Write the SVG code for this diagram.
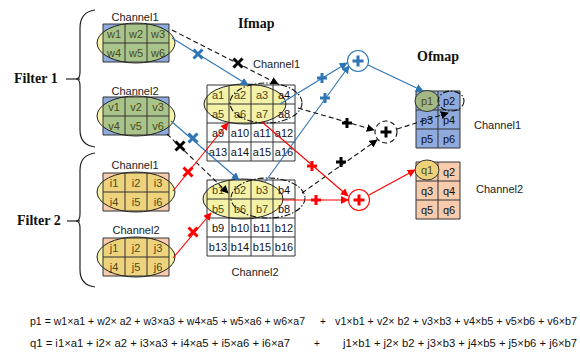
<svg xmlns="http://www.w3.org/2000/svg" xmlns:xlink="http://www.w3.org/1999/xlink" width="580" height="352" viewBox="0 0 580 352">
<style>
text{font-family:"Liberation Sans",Arial,sans-serif;fill:#222}
.ttl{font-family:"Liberation Serif","Times New Roman",serif;font-weight:bold;font-size:14px;fill:#111}
.lbl{font-size:11px;text-anchor:middle}
.lbl2{font-size:11px}
.c{font-size:11px;text-anchor:middle;fill:#111}
.ci{font-size:11px;text-anchor:middle;fill:#4a4a1c}
.eq{font-size:10px;fill:#111}
.grid{fill:none;stroke:#333;stroke-width:1}
.blueR{fill:#8FAADC}
.peachR{fill:#F8CBAD}
.yel{fill:#F4F1A8}
.estroke{fill:none;stroke:#222;stroke-width:1}
.dd{fill:none;stroke:#111;stroke-width:1.1;stroke-dasharray:6 2 1.5 2}
.bl{stroke:#2E75B6;stroke-width:1.1;fill:none}
.rd{stroke:#FF0000;stroke-width:1.1;fill:none}
.bk{stroke:#111;stroke-width:1.1;fill:none;stroke-dasharray:5 3}
.mb{stroke:#2E75B6;stroke-width:3;fill:none}
.mr{stroke:#FF0000;stroke-width:3;fill:none}
.mk{stroke:#000;stroke-width:3;fill:none}
.brace{fill:none;stroke:#222;stroke-width:1.2}
</style>
<defs>
<clipPath id="ek" clipPathUnits="objectBoundingBox"><ellipse cx="0.5" cy="0.5" rx="0.59" ry="0.53"/></clipPath>
<path id="xm" d="M-4.5,-4.5L4.5,4.5M-4.5,4.5L4.5,-4.5"/>
<path id="pm" d="M-5,0H5M0,-5V5"/>
<path id="pc" d="M-5.5,0H5.5M0,-5.5V5.5"/>
<marker id="ab" viewBox="0 0 10 10" refX="9" refY="5" markerWidth="8" markerHeight="8" markerUnits="userSpaceOnUse" orient="auto"><path d="M0,0L10,5L0,10z" fill="#2E75B6"/></marker>
<marker id="ar" viewBox="0 0 10 10" refX="9" refY="5" markerWidth="8" markerHeight="8" markerUnits="userSpaceOnUse" orient="auto"><path d="M0,0L10,5L0,10z" fill="#FF0000"/></marker>
<marker id="ak" viewBox="0 0 10 10" refX="9" refY="5" markerWidth="8" markerHeight="8" markerUnits="userSpaceOnUse" orient="auto"><path d="M0,0L10,5L0,10z" fill="#000"/></marker>
</defs>

<!-- Filter labels and braces -->
<g id="filter1">
<text class="ttl" x="14" y="83">Filter 1</text>
<path class="brace" d="M66,79H80"/>
<path class="brace" d="M95,10Q80,12 80,28V72Q80,79 76,79Q80,79 80,86V130Q80,145 95,147"/>
</g>
<g id="filter2">
<text class="ttl" x="17" y="225">Filter 2</text>
<path class="brace" d="M67,221H80"/>
<path class="brace" d="M95,153Q80,155 80,170V214Q80,221 76,221Q80,221 80,228V270Q80,285 95,287"/>
</g>

<!-- Kernel w -->
<g id="kernel-w">
<text class="lbl" x="135" y="21">Channel1</text>
<ellipse class="yel" cx="136" cy="43" rx="39" ry="20"/>
<rect class="blueR" x="103" y="24" width="66" height="38"/>
<rect x="103" y="24" width="66" height="38" fill="#A9C48B" clip-path="url(#ek)"/>
<path class="grid" d="M103,24h66v38h-66zM125,24v38M147,24v38M103,43h66"/>
<text class="ci" x="114" y="37.5">w1</text><text class="ci" x="136" y="37.5">w2</text><text class="ci" x="158" y="37.5">w3</text>
<text class="ci" x="114" y="56.5">w4</text><text class="ci" x="136" y="56.5">w5</text><text class="ci" x="158" y="56.5">w6</text>
<ellipse class="estroke" cx="136" cy="43" rx="39" ry="20"/>
</g>

<!-- Kernel v -->
<g id="kernel-v">
<text class="lbl" x="135" y="95">Channel2</text>
<ellipse class="yel" cx="136" cy="116" rx="39" ry="20"/>
<rect class="blueR" x="103" y="97" width="66" height="38"/>
<rect x="103" y="97" width="66" height="38" fill="#A9C48B" clip-path="url(#ek)"/>
<path class="grid" d="M103,97h66v38h-66zM125,97v38M147,97v38M103,116h66"/>
<text class="ci" x="114" y="110.5">v1</text><text class="ci" x="136" y="110.5">v2</text><text class="ci" x="158" y="110.5">v3</text>
<text class="ci" x="114" y="129.5">v4</text><text class="ci" x="136" y="129.5">v5</text><text class="ci" x="158" y="129.5">v6</text>
<ellipse class="estroke" cx="136" cy="116" rx="39" ry="20"/>
</g>

<!-- Kernel i -->
<g id="kernel-i">
<text class="lbl" x="135" y="169">Channel1</text>
<ellipse class="yel" cx="136" cy="192" rx="39" ry="20"/>
<rect class="peachR" x="103" y="173" width="66" height="38"/>
<rect x="103" y="173" width="66" height="38" fill="#EFD27C" clip-path="url(#ek)"/>
<path class="grid" d="M103,173h66v38h-66zM125,173v38M147,173v38M103,192h66"/>
<text class="ci" x="114" y="186.5">i1</text><text class="ci" x="136" y="186.5">i2</text><text class="ci" x="158" y="186.5">i3</text>
<text class="ci" x="114" y="205.5">i4</text><text class="ci" x="136" y="205.5">i5</text><text class="ci" x="158" y="205.5">i6</text>
<ellipse class="estroke" cx="136" cy="192" rx="39" ry="20"/>
</g>

<!-- Kernel j -->
<g id="kernel-j">
<text class="lbl" x="136" y="234">Channel2</text>
<ellipse class="yel" cx="136" cy="257" rx="39" ry="20"/>
<rect class="peachR" x="103" y="238" width="66" height="38"/>
<rect x="103" y="238" width="66" height="38" fill="#EFD27C" clip-path="url(#ek)"/>
<path class="grid" d="M103,238h66v38h-66zM125,238v38M147,238v38M103,257h66"/>
<text class="ci" x="114" y="251.5">j1</text><text class="ci" x="136" y="251.5">j2</text><text class="ci" x="158" y="251.5">j3</text>
<text class="ci" x="114" y="270.5">j4</text><text class="ci" x="136" y="270.5">j5</text><text class="ci" x="158" y="270.5">j6</text>
<ellipse class="estroke" cx="136" cy="257" rx="39" ry="20"/>
</g>

<!-- Ifmap channel 1 -->
<g id="ifmap-a">
<text class="ttl" x="238" y="28">Ifmap</text>
<text class="lbl2" x="253" y="68">Channel1</text>
<rect x="207" y="85" width="88" height="76" fill="#fff"/>
<ellipse class="yel" cx="245" cy="104" rx="41" ry="20"/>
<path class="grid" d="M207,85h88v76h-88zM229,85v76M251,85v76M273,85v76M207,104h88M207,123h88M207,142h88"/>
<text class="ci" x="218" y="98.5">a1</text><text class="ci" x="240" y="98.5">a2</text><text class="ci" x="262" y="98.5">a3</text><text class="c" x="284" y="98.5">a4</text>
<text class="ci" x="218" y="117.5">a5</text><text class="ci" x="240" y="117.5">a6</text><text class="ci" x="262" y="117.5">a7</text><text class="c" x="284" y="117.5">a8</text>
<text class="c" x="218" y="136.5">a9</text><text class="c" x="240" y="136.5">a10</text><text class="c" x="262" y="136.5">a11</text><text class="c" x="284" y="136.5">a12</text>
<text class="c" x="218" y="155.5">a13</text><text class="c" x="240" y="155.5">a14</text><text class="c" x="262" y="155.5">a15</text><text class="c" x="284" y="155.5">a16</text>
<ellipse class="estroke" cx="245" cy="104" rx="41" ry="20"/>
<ellipse class="dd" cx="266" cy="103" rx="36" ry="20"/>
</g>

<!-- Ifmap channel 2 -->
<g id="ifmap-b">
<rect x="207" y="180" width="88" height="76" fill="#fff"/>
<ellipse class="yel" cx="243" cy="199" rx="40" ry="20"/>
<path class="grid" d="M207,180h88v76h-88zM229,180v76M251,180v76M273,180v76M207,199h88M207,218h88M207,237h88"/>
<text class="ci" x="218" y="193.5">b1</text><text class="ci" x="240" y="193.5">b2</text><text class="ci" x="262" y="193.5">b3</text><text class="c" x="284" y="193.5">b4</text>
<text class="ci" x="218" y="212.5">b5</text><text class="ci" x="240" y="212.5">b6</text><text class="ci" x="262" y="212.5">b7</text><text class="c" x="284" y="212.5">b8</text>
<text class="c" x="218" y="231.5">b9</text><text class="c" x="240" y="231.5">b10</text><text class="c" x="262" y="231.5">b11</text><text class="c" x="284" y="231.5">b12</text>
<text class="c" x="218" y="250.5">b13</text><text class="c" x="240" y="250.5">b14</text><text class="c" x="262" y="250.5">b15</text><text class="c" x="284" y="250.5">b16</text>
<ellipse class="estroke" cx="243" cy="199" rx="40" ry="20"/>
<ellipse class="dd" cx="268" cy="198" rx="37" ry="20"/>
<text class="lbl" x="255" y="276">Channel2</text>
</g>

<!-- Ofmap -->
<g id="ofmap-p">
<text class="ttl" x="417" y="61">Ofmap</text>
<rect class="blueR" x="416" y="91" width="44" height="57"/>
<path class="grid" d="M416,91h44v57h-44zM438,91v57M416,110h44M416,129h44"/>
<ellipse cx="427" cy="101" rx="12" ry="10.5" fill="#A3B985" stroke="#333" stroke-width="1"/>
<text class="ci" x="427" y="104.5">p1</text><text class="c" x="449" y="104.5">p2</text>
<text class="c" x="427" y="123.5">p3</text><text class="c" x="449" y="123.5">p4</text>
<text class="c" x="427" y="142.5">p5</text><text class="c" x="449" y="142.5">p6</text>
<ellipse class="dd" cx="451" cy="101" rx="13" ry="10"/>
<text class="lbl2" x="474" y="129">Channel1</text>
</g>
<g id="ofmap-q">
<rect class="peachR" x="416" y="162" width="44" height="57"/>
<path class="grid" d="M416,162h44v57h-44zM438,162v57M416,181h44M416,200h44"/>
<ellipse cx="427" cy="170" rx="12" ry="10" fill="#EED27A" stroke="#333" stroke-width="1"/>
<text class="ci" x="427" y="174">q1</text><text class="c" x="449" y="175.5">q2</text>
<text class="c" x="427" y="194.5">q3</text><text class="c" x="449" y="194.5">q4</text>
<text class="c" x="427" y="213.5">q5</text><text class="c" x="449" y="213.5">q6</text>
<text class="lbl2" x="476" y="193">Channel2</text>
</g>

<!-- Connectors -->
<g id="connectors">
<path class="bl" d="M172,38L248,85" marker-end="url(#ab)"/>
<path class="bk" d="M172,30L278,84" marker-end="url(#ak)"/>
<path class="bl" d="M171,121L239,180" marker-end="url(#ab)"/>
<path class="bk" d="M167,134L228,193" marker-end="url(#ak)"/>
<path class="rd" d="M173,191L228,123" marker-end="url(#ar)"/>
<path class="rd" d="M173,258L211,213" marker-end="url(#ar)"/>
<path class="bl" d="M280,104L347,63" marker-end="url(#ab)"/>
<path class="bl" d="M265,182L349,66" marker-end="url(#ab)"/>
<path class="bl" d="M368,65L423,91" marker-end="url(#ab)"/>
<path class="bk" d="M298,108L374,130" marker-end="url(#ak)"/>
<path class="bk" d="M302,193L377,140" marker-end="url(#ak)"/>
<path class="bk" d="M397,129L448,113" marker-end="url(#ak)"/>
<path class="rd" d="M262,122L348,196" marker-end="url(#ar)"/>
<path class="rd" d="M282,200L348,200" marker-end="url(#ar)"/>
<path class="rd" d="M369,195L415,170" marker-end="url(#ar)"/>
<use xlink:href="#xm" class="mb" x="198" y="54"/>
<use xlink:href="#xm" class="mk" x="238" y="63"/>
<use xlink:href="#xm" class="mb" x="193" y="138"/>
<use xlink:href="#xm" class="mk" x="180" y="146"/>
<use xlink:href="#xm" class="mr" x="188" y="172"/>
<use xlink:href="#xm" class="mr" x="193" y="232"/>
<use xlink:href="#pm" class="mb" x="322" y="78"/>
<use xlink:href="#pm" class="mb" x="325" y="98"/>
<use xlink:href="#pm" class="mk" x="347" y="123"/>
<use xlink:href="#pm" class="mk" x="341" y="162"/>
<use xlink:href="#pm" class="mr" x="312" y="166"/>
<use xlink:href="#pm" class="mr" x="316" y="200"/>
</g>

<!-- Sum nodes -->
<g id="sum-blue">
<circle cx="358" cy="61" r="10.5" fill="#fff" stroke="#2E75B6" stroke-width="1.1"/>
<use xlink:href="#pc" class="mb" x="358" y="61"/>
</g>
<g id="sum-black">
<circle cx="386" cy="132" r="11" fill="#fff" stroke="#111" stroke-width="1.1" stroke-dasharray="5 3"/>
<use xlink:href="#pc" class="mk" x="386" y="132"/>
</g>
<g id="sum-red">
<circle cx="359" cy="200" r="10.5" fill="#fff" stroke="#FF0000" stroke-width="1.1"/>
<use xlink:href="#pc" class="mr" x="359" y="200"/>
</g>

<!-- Equations -->
<g id="equations">
<text class="eq" x="30" y="325" textLength="275" lengthAdjust="spacingAndGlyphs">p1 = w1×a1 + w2× a2 + w3×a3 + w4×a5 + w5×a6 + w6×a7</text>
<text class="eq" x="320" y="325">+</text>
<text class="eq" x="335" y="325" textLength="242" lengthAdjust="spacingAndGlyphs">v1×b1 + v2× b2 + v3×b3 + v4×b5 + v5×b6 + v6×b7</text>
<text class="eq" x="30" y="347" textLength="260" lengthAdjust="spacingAndGlyphs">q1 = i1×a1  +  i2× a2 +  i3×a3 +  i4×a5 +  i5×a6 +  i6×a7</text>
<text class="eq" x="314" y="347">+</text>
<text class="eq" x="343" y="347" textLength="234" lengthAdjust="spacingAndGlyphs">j1×b1  +  j2× b2 +  j3×b3 +  j4×b5 +  j5×b6 +  j6×b7</text>
</g>
</svg>
